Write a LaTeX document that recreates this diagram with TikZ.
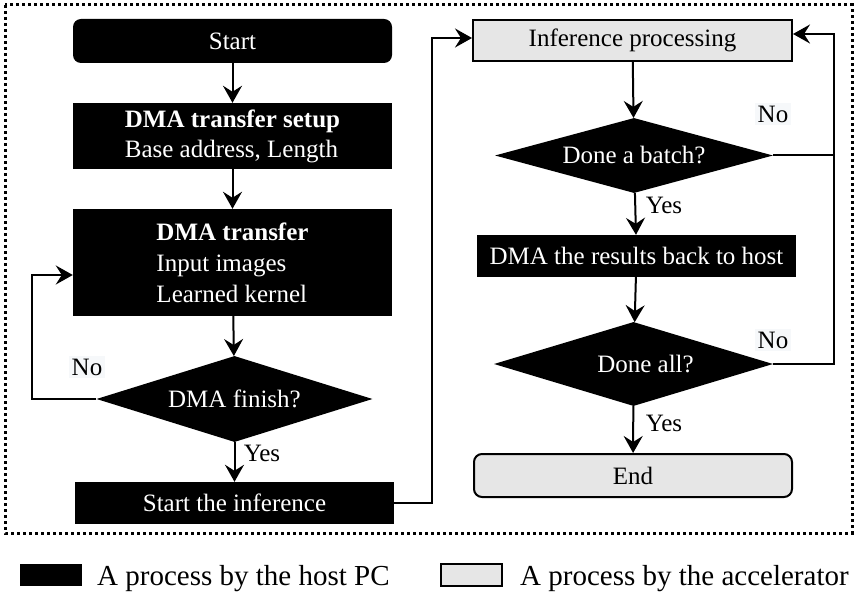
\documentclass[tikz,border=0pt]{standalone}
\usepackage{fontspec}
\setmainfont{Liberation Serif}
\usetikzlibrary{shapes.geometric,arrows.meta}
\definecolor{accgray}{RGB}{230,230,230}
\definecolor{labelbg}{RGB}{246,248,250}
\begin{document}
\begin{tikzpicture}[x=1pt,y=-1pt,
  font=\fontsize{25}{30}\selectfont,
  hostbox/.style={rectangle, fill=black, text=white, inner sep=0pt},
  accbox/.style={rectangle, draw=black, line width=2pt, fill=accgray, inner sep=0pt},
  decision/.style={diamond, fill=black, text=white, inner sep=0pt},
  flow/.style={line width=2pt, -{Stealth[length=17pt,width=19pt,inset=6pt]}},
  link/.style={line width=2pt},
  answer/.style={inner sep=1pt},
  noanswer/.style={inner sep=3pt, fill=labelbg},
  legendtext/.style={font=\fontsize{29}{34}\selectfont, anchor=base west, inner sep=0pt},
  frame/.style={line width=3pt, dash pattern=on 3pt off 3pt}
]
\useasboundingbox (0,0) rectangle (856,593);

% dotted frame around the flow
\draw[frame] (5,5) rectangle (852,533);

% host side (left column)
\node[hostbox, rounded corners=8pt, minimum width=319pt, minimum height=44pt] (start) at (232.5,41) {Start};
\node[hostbox, align=left, minimum width=319pt, minimum height=66pt] (setup) at (232.5,136)
  {\textbf{DMA transfer setup}\\Base address, Length};
\node[hostbox, align=left, minimum width=319pt, minimum height=107pt] (transfer) at (232.5,262.5)
  {\textbf{DMA transfer}\\[1pt]Input images\\[1pt]Learned kernel};
\node[decision, minimum width=276pt, minimum height=86pt] (fin) at (234.5,399) {\makebox[0pt]{DMA finish?}};
\node[hostbox, minimum width=319pt, minimum height=42pt] (go) at (234.5,503) {Start the inference};

% accelerator side (right column)
\node[accbox, minimum width=319pt, minimum height=41pt] (inf) at (632.5,40.5) {Inference processing};
\node[decision, minimum width=278pt, minimum height=75pt] (batch) at (634,155.5) {\makebox[0pt]{Done a batch?}};
\node[hostbox, minimum width=319pt, minimum height=42pt] (back) at (636.5,256) {DMA the results back to host};
\node[decision, minimum width=279pt, minimum height=84pt] (all) at (633.5,364) {\makebox[0pt]{\hspace{24pt}Done all?}};
\node[accbox, rounded corners=8pt, minimum width=318pt, minimum height=43pt] (end) at (633,475.5) {End};

% routing points
\coordinate (loopL) at (32,275);
\coordinate (jR) at (432,38);
\coordinate (rR) at (834,34);

% connectors
\draw[flow] (start) -- (setup);
\draw[flow] (setup) -- (transfer);
\draw[flow] (transfer) -- (fin);
\draw[flow] (fin) -- (go);
\draw[flow] (fin.west) -| (loopL) -- (loopL -| transfer.west);
\draw[flow] (go.east) -| (jR) -- (jR -| inf.west);
\draw[flow] (inf) -- (batch);
\draw[flow] (batch) -- (back);
\draw[flow] (back) -- (all);
\draw[flow] (all) -- (end);
\draw[flow] (batch.east) -| (rR) -- (rR -| inf.east);
\draw[link] (all.east) -| (batch.east -| rR);

% branch labels
\node[noanswer] (noFin) at (87,367) {No};
\node[answer] (yesFin) at (262,453) {Yes};
\node[noanswer] (noBatch) at (773,114) {No};
\node[answer] (yesBatch) at (664,205) {Yes};
\node[noanswer] (noAll) at (773,340) {No};
\node[answer] (yesAll) at (664,423) {Yes};

% legend
\node[fill=black, minimum width=62pt, minimum height=22pt, inner sep=0pt] (legHost) at (51,575) {};
\node[legendtext] (legHostText) at (97,585) {A process by the host PC};
\node[draw=black, line width=2pt, fill=accgray, minimum width=61pt, minimum height=22pt, inner sep=0pt] (legAcc) at (471.5,575) {};
\node[legendtext] (legAccText) at (520,585) {A process by the accelerator};
\end{tikzpicture}
\end{document}
